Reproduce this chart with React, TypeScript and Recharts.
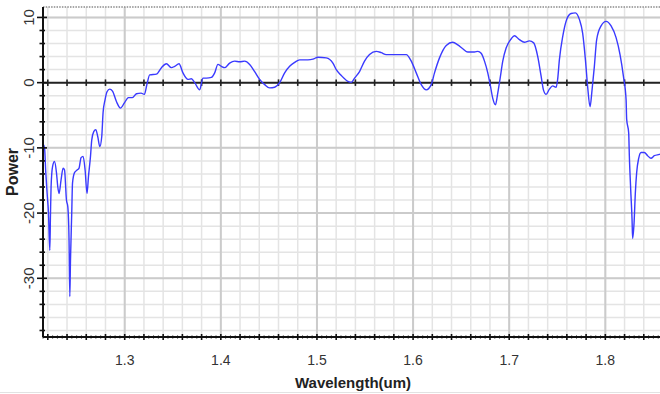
import React from "react";
import {
    ComposedChart,
    Line,
    XAxis,
    YAxis,
    CartesianGrid,
    ReferenceLine
} from "recharts";

const wavelength = [
    1.215, 1.2166, 1.2179, 1.2193, 1.2207, 1.2221, 1.2228, 1.2234, 1.2249, 1.227,
    1.229, 1.2304, 1.2317, 1.2338, 1.2359, 1.2374, 1.2394, 1.2408, 1.2421, 1.2429,
    1.2436, 1.2449, 1.2457, 1.2478, 1.2505, 1.2525, 1.2546, 1.2567, 1.2588, 1.2608,
    1.2623, 1.2644, 1.2657, 1.2678, 1.2699, 1.272, 1.2741, 1.2761, 1.2775, 1.2796,
    1.2816, 1.2844, 1.2873, 1.2914, 1.2956, 1.2997, 1.3039, 1.308, 1.3122, 1.317,
    1.3205, 1.3232, 1.326, 1.333, 1.3382, 1.3434, 1.3486, 1.352, 1.3565, 1.3606,
    1.3658, 1.3694, 1.3728, 1.378, 1.3814, 1.385, 1.3902, 1.3936, 1.397, 1.4006,
    1.404, 1.4092, 1.4144, 1.4196, 1.4248, 1.43, 1.4352, 1.4404, 1.4456, 1.4508,
    1.456, 1.4612, 1.4664, 1.4716, 1.4768, 1.482, 1.4906, 1.4958, 1.501, 1.5097,
    1.5166, 1.5201, 1.5253, 1.5322, 1.5357, 1.5391, 1.5443, 1.5495, 1.5547, 1.5617,
    1.5669, 1.5721, 1.5825, 1.5929, 1.5981, 1.6033, 1.6085, 1.6137, 1.6189, 1.6223,
    1.6275, 1.6345, 1.6413, 1.6465, 1.6517, 1.6569, 1.6639, 1.6674, 1.6708, 1.6743,
    1.6777, 1.6802, 1.6829, 1.6857, 1.6881, 1.6906, 1.6933, 1.6968, 1.702, 1.7054,
    1.7106, 1.7158, 1.721, 1.7255, 1.7297, 1.7332, 1.7356, 1.7384, 1.7418, 1.7452,
    1.7488, 1.7504, 1.7522, 1.7557, 1.7598, 1.7644, 1.7689, 1.773, 1.7764, 1.7793,
    1.7816, 1.7841, 1.7862, 1.7886, 1.791, 1.7956, 1.8008, 1.806, 1.8112, 1.8153,
    1.8188, 1.8216, 1.8222, 1.8243, 1.825, 1.8264, 1.8278, 1.8284, 1.8299, 1.8312,
    1.8326, 1.8347, 1.8372, 1.8406, 1.844, 1.8475, 1.851, 1.8562, 1.86
];

const power = [
    -9.4, -10, -13.8, -17, -20, -25.7, -20, -16, -12.9, -12.1,
    -13.8, -16, -17, -14.9, -13.1, -13.4, -18, -19, -24.2, -32.8,
    -27.2, -20, -15.4, -13.8, -13.4, -13.1, -11.5, -11.3, -13.4, -17,
    -14.4, -11.3, -8.8, -7.5, -7.2, -8.3, -9.8, -8.3, -4.6, -2.6,
    -1.4, -1.0, -1.3, -2.9, -3.9, -3.1, -2.3, -2.3, -1.7, -1.6,
    -1.8, -0.2, 1.2, 1.3, 2.3, 2.9, 2.3, 2.5, 2.9, 1.5,
    0.5, 0.6, 0, -1.1, 0.7, 0.7, 0.8, 1.5, 2.8, 2.5,
    2.3, 3.0, 3.3, 3.2, 3.3, 2.8, 1.7, 0.5, -0.3, -0.8,
    -0.7, 0, 1.5, 2.5, 3.1, 3.5, 3.5, 3.6, 3.9, 3.8,
    3.0, 2.0, 1.1, 0.2, 0.05, 0.7, 1.7, 3.3, 4.3, 4.8,
    4.6, 4.3, 4.3, 4.3, 3.3, 1.5, -0.3, -1.1, -0.3, 1.5,
    3.8, 5.7, 6.2, 5.8, 5.2, 4.7, 4.7, 4.8, 4.5, 3.3,
    1.5, -0.3, -2.4, -3.4, -1.6, 0.7, 3.3, 5.3, 6.7, 7.2,
    6.6, 6.2, 6.4, 6.1, 4.0, 1.0, -1.1, -1.8, -1.0, -0.5,
    -0.7, 0.5, 3.5, 7.1, 9.7, 10.6, 10.7, 9.7, 7.6, 3.5,
    -0.6, -3.7, -1.1, 2.5, 6.6, 8.7, 9.4, 8.7, 6.9, 4.3,
    1.0, -2.6, -5.6, -7.7, -11.3, -16.4, -21, -23.9, -21.5, -17,
    -13.8, -11.6, -10.7, -10.7, -11.2, -11.6, -11.2, -11, -10.8
];

const xTickLabels = [1.3, 1.4, 1.5, 1.6, 1.7, 1.8];
const yTickLabels = [-30, -20, -10, 0, 10];
const xDomain = [1.215, 1.86];
const yDomain = [-39, 11.6];

const data = wavelength.map((w, i) => ({ w, p: power[i] }));

const r3 = (v: number) => Math.round(v * 1000) / 1000;
const onStep = (v: number, step: number) => Math.abs(v / step - Math.round(v / step)) < 1e-6;

// grid every 0.02 / 2, axis minor ticks every 0.005
const xGrid: number[] = [];
for (let v = 1.22; v <= 1.861; v += 0.02) xGrid.push(r3(v));
const yGrid: number[] = [];
for (let v = -38; v <= 10; v += 2) yGrid.push(v);
const xMinor: number[] = [];
for (let v = 1.215; v <= 1.8601; v += 0.005) xMinor.push(r3(v));

const font = "'Liberation Sans', Arial, sans-serif";

const XTick = ({ x, y, payload }: any) => {
    const v = r3(payload.value);
    const big = onStep(v, 0.02);
    const label = xTickLabels.some((t) => Math.abs(t - v) < 1e-6);
    return (
        <g>
            <line x1={x} x2={x} y1={y - (big ? 3 : 1.5)} y2={y + (big ? 3 : 1.5)} stroke="#111" strokeWidth={big ? 1.6 : 1} />
            {label && (
                <text x={x} y={y + 28} textAnchor="middle" fontSize={14} fill="#333" fontFamily={font}>
                    {v.toFixed(1)}
                </text>
            )}
        </g>
    );
};

const YTick = ({ x, y, payload }: any) => {
    const v = payload.value;
    const major = yTickLabels.includes(v);
    return (
        <g>
            <line x1={x - (major ? 6 : 3.5)} x2={x + (major ? 4 : 2)} y1={y} y2={y} stroke="#111" strokeWidth={1.6} />
            {major && (
                <text
                    x={x - 14}
                    y={y}
                    textAnchor="middle"
                    dominantBaseline="central"
                    fontSize={15}
                    fill="#333"
                    fontFamily={font}
                    transform={`rotate(-90 ${x - 14} ${y})`}
                >
                    {v}
                </text>
            )}
        </g>
    );
};

export default function App() {
    return (
        <div style={{ position: "absolute", left: 0, top: 0, width: 660, height: 394, overflow: "hidden", background: "#fff" }}>
            <ComposedChart width={670} height={394} data={data} margin={{ top: 7, right: 7, bottom: 0, left: 0 }}>
                <CartesianGrid
                    stroke="#e4e4e4"
                    strokeWidth={1.5}
                    verticalValues={xGrid}
                    horizontalValues={yGrid}
                />
                {xTickLabels.map((t) => (
                    <ReferenceLine key={`vx${t}`} x={t} stroke="#cbcbcb" strokeWidth={2} />
                ))}
                {yTickLabels.filter((t) => t !== 0).map((t) => (
                    <ReferenceLine key={`hy${t}`} y={t} stroke="#cbcbcb" strokeWidth={2} />
                ))}
                <ReferenceLine y={yDomain[1]} stroke="#8a8a8a" strokeWidth={1.5} strokeDasharray="1.5 1.2" />
                <ReferenceLine y={0} stroke="#222" strokeWidth={2} />
                {xGrid.map((t) => (
                    <ReferenceLine key={`zt${t}`} segment={[{ x: t, y: -0.5 }, { x: t, y: 0.5 }]} stroke="#222" strokeWidth={1.6} />
                ))}
                <XAxis
                    dataKey="w"
                    type="number"
                    domain={xDomain}
                    allowDataOverflow
                    ticks={xMinor}
                    interval={0}
                    height={57}
                    tickSize={0}
                    tickMargin={0}
                    tickLine={false}
                    tick={<XTick />}
                    axisLine={{ stroke: "#111", strokeWidth: 2 }}
                />
                <YAxis
                    type="number"
                    domain={yDomain}
                    allowDataOverflow
                    ticks={yGrid}
                    interval={0}
                    width={43}
                    tickSize={0}
                    tickMargin={0}
                    tickLine={false}
                    tick={<YTick />}
                    axisLine={{ stroke: "#111", strokeWidth: 2 }}
                />
                <Line
                    type="monotone"
                    dataKey="p"
                    stroke="#3a3aff"
                    strokeWidth={1.4}
                    dot={false}
                    isAnimationActive={false}
                />
            </ComposedChart>
            <div
                style={{
                    position: "absolute",
                    left: 13,
                    top: 172,
                    transform: "translate(-50%, -50%) rotate(-90deg)",
                    fontFamily: font,
                    fontWeight: "bold",
                    fontSize: 16,
                    color: "#222",
                    whiteSpace: "nowrap"
                }}
            >
                Power
            </div>
            <div
                style={{
                    position: "absolute",
                    left: 353,
                    top: 382,
                    transform: "translate(-50%, -50%)",
                    fontFamily: font,
                    fontWeight: "bold",
                    fontSize: 15,
                    color: "#222",
                    whiteSpace: "nowrap"
                }}
            >
                Wavelength(um)
            </div>
            <div style={{ position: "absolute", left: 0, top: 392, width: 660, borderTop: "1px solid #e2e2e2" }} />
        </div>
    );
}
